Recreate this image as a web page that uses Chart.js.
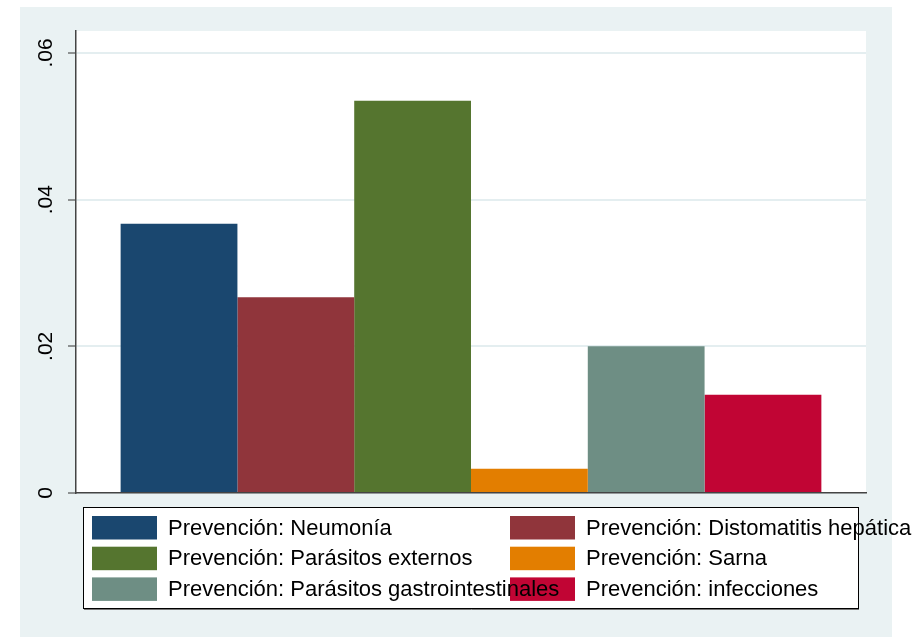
<!DOCTYPE html>
<html>
<head>
<meta charset="utf-8">
<script src="https://cdn.jsdelivr.net/npm/chart.js@4/dist/chart.umd.min.js"></script>
<style>
  html, body { margin: 0; padding: 0; background: #fff; }
</style>
</head>
<body>
<canvas id="chartCanvas" width="917" height="637"></canvas>
<script>
// data
const GROUPS = [''];
const SERIES = [
  'Prevención: Neumonía',
  'Prevención: Distomatitis hepática',
  'Prevención: Parásitos externos',
  'Prevención: Sarna',
  'Prevención: Parásitos gastrointestinales',
  'Prevención: infecciones'
];
const VALUES = [0.0367, 0.0267, 0.0535, 0.0033, 0.0200, 0.0134];
const COLORS = ['#1a476f', '#90353b', '#55752f', '#e37e00', '#6e8e84', '#c10534'];
const Y_TICKS = [0, 0.02, 0.04, 0.06];
const Y_TICK_LABELS = ['0', '.02', '.04', '.06'];

const BG = '#eaf2f3';

// grey outer region + white plot region
const backdrop = {
  id: 'backdrop',
  beforeDraw(chart) {
    const ctx = chart.ctx;
    const a = chart.chartArea;
    ctx.save();
    ctx.fillStyle = '#fff';
    ctx.fillRect(0, 0, chart.width, chart.height);
    ctx.fillStyle = BG;
    ctx.fillRect(20, 7, 872, 630);
    ctx.fillStyle = '#fff';
    ctx.fillRect(a.left, a.top, a.right - a.left, a.bottom - a.top);
    ctx.restore();
  }
};

// two column legend in a box under the plot
const boxLegend = {
  id: 'boxLegend',
  afterDraw(chart) {
    const ctx = chart.ctx;
    const sets = chart.data.datasets;
    ctx.save();
    ctx.fillStyle = '#fff';
    ctx.fillRect(83.5, 507.5, 775, 101);
    ctx.strokeStyle = '#000';
    ctx.lineWidth = 1;
    ctx.strokeRect(83.5, 507.5, 775, 101);
    ctx.strokeStyle = '#777';
    ctx.beginPath();
    ctx.moveTo(84, 609.5);
    ctx.lineTo(859, 609.5);
    ctx.stroke();

    const pos = i => ({ x: i % 2 ? 510 : 92, y: 516 + Math.floor(i / 2) * 30.7 });
    sets.forEach((ds, i) => {
      const p = pos(i);
      ctx.fillStyle = ds.backgroundColor;
      ctx.fillRect(p.x, p.y, 65, 23.5);
    });
    ctx.fillStyle = '#000';
    ctx.font = '22px "Liberation Sans", Arial, sans-serif';
    ctx.textBaseline = 'middle';
    ctx.textAlign = 'left';
    sets.forEach((ds, i) => {
      const p = pos(i);
      ctx.fillText(ds.label, p.x + 76, p.y + 12.5);
    });
    ctx.restore();
  }
};

const ctx = document.getElementById('chartCanvas').getContext('2d');
const myChart = new Chart(ctx, {
  type: 'bar',
  data: {
    labels: GROUPS,
    datasets: SERIES.map((name, i) => ({
      label: name,
      data: [VALUES[i]],
      backgroundColor: COLORS[i],
      borderWidth: 0
    }))
  },
  options: {
    responsive: false,
    animation: false,
    devicePixelRatio: 1,
    layout: { padding: { top: 31, right: 51, left: 0, bottom: 0 } },
    datasets: { bar: { categoryPercentage: 0.887, barPercentage: 1.0 } },
    plugins: {
      legend: { display: false },
      tooltip: { enabled: false }
    },
    scales: {
      x: {
        grid: { display: false },
        ticks: { display: false },
        border: { color: '#444', width: 1.5 },
        afterFit: s => { s.height = 144; }
      },
      y: {
        min: 0,
        max: 0.063,
        afterBuildTicks: s => { s.ticks = Y_TICKS.map(v => ({ value: v })); },
        afterFit: s => { s.width = 76; },
        grid: { color: '#e4eef0', lineWidth: 2, tickLength: 8, tickColor: '#333', tickWidth: 1 },
        border: { color: '#444', width: 1.5 },
        ticks: {
          autoSkip: false,
          minRotation: 90,
          maxRotation: 90,
          crossAlign: 'center',
          padding: 7,
          color: '#000',
          font: { family: '"Liberation Sans", Arial, sans-serif', size: 21 },
          callback: (v, i) => Y_TICK_LABELS[i]
        }
      }
    }
  },
  plugins: [backdrop, boxLegend]
});
</script>
</body>
</html>
